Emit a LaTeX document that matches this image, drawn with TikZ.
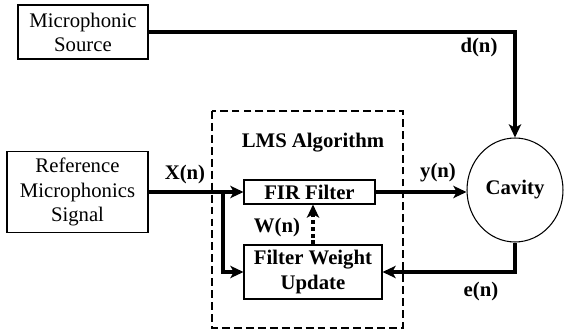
\documentclass[tikz,border=0pt]{standalone}
\usepackage{fontspec}
\setmainfont{LiberationSerif}[Extension=.ttf, UprightFont=*-Regular, BoldFont=*-Bold, ItalicFont=*-Italic, BoldItalicFont=*-BoldItalic]
\usetikzlibrary{arrows.meta,shapes.geometric}
\tikzset{
	blockbox/.style={draw, line width=0.6pt, align=center, inner sep=0pt},
	sigline/.style={line width=2pt},
	sigarrow/.style={sigline, -{Stealth[length=7.5pt,width=7pt,inset=2pt]}},
	boldtext/.style={font=\fontsize{11.8}{13.7}\selectfont\bfseries},
	every node/.style={font=\fontsize{11.8}{13.7}\selectfont},
}

\begin{document}
\begin{tikzpicture}[x=0.02cm, y=-0.02cm]
			%%%%% START %%%%%
			\useasboundingbox (0, 0) rectangle (565, 334);
			
			% blocks
			\node[blockbox, minimum width=2.6cm, minimum height=1.08cm] (src) at (83, 32) {Microphonic\\Source};
			\node[blockbox, minimum width=2.82cm, minimum height=1.62cm] (ref) at (77.5, 192) {Reference\\Microphonics\\Signal};
			\node[blockbox, boldtext, minimum width=2.62cm, minimum height=0.48cm] (fir) at (309.5, 192) {FIR Filter};
			\node[blockbox, boldtext, minimum width=2.76cm, minimum height=1.08cm] (fwu) at (313, 272) {Filter Weight\\Update};
			\node[draw, ellipse, boldtext, line width=0.6pt, minimum width=1.92cm, minimum height=2.08cm, inner sep=0pt] (cav) at (515, 190) {Cavity};
			
			% LMS frame
			\draw[line width=1.1pt, dash pattern=on 4.5pt off 2.3pt] (212, 111) rectangle (403, 328);
			\node[boldtext] (lms) at (313, 143) {LMS Algorithm};
			
			% signals
			\coordinate (br) at (223, 192);
			\draw[sigarrow] (src.east) -| (cav.north);
			\draw[sigarrow] (ref.east) -- (fir.west);
			\draw[sigarrow] (br) |- (fwu.west);
			\draw[sigarrow] (fir.east) -- (fir.east -| cav.west);
			\draw[sigarrow] (cav.south) |- (fwu.east);
			\draw[sigarrow, dash pattern=on 2.3pt off 1.6pt] (fwu.north) -- (fwu.north |- fir.south);
			
			% labels
			\node[boldtext] (dlbl) at (479, 48) {d(n)};
			\node[boldtext] (xlbl) at (185, 175) {X(n)};
			\node[boldtext] (ylbl) at (438, 173) {y(n)};
			\node[boldtext] (wlbl) at (277, 228) {W(n)};
			\node[boldtext] (elbl) at (481, 292) {e(n)};
			
			%%%%% END %%%%%
\end{tikzpicture}
\end{document}
